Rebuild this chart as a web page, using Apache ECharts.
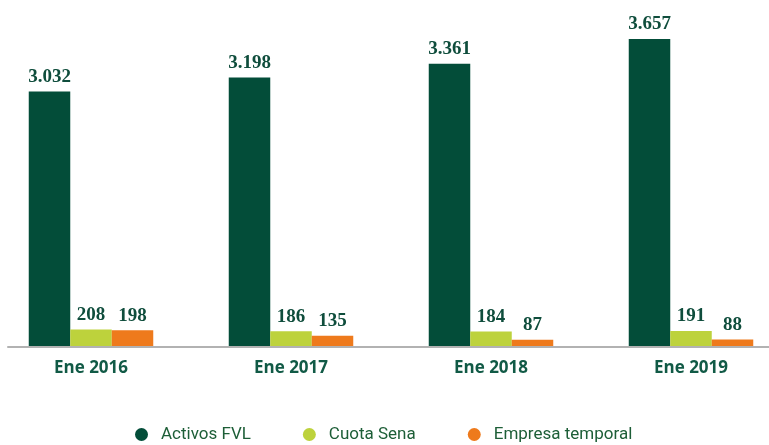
<!DOCTYPE html>
<html>
<head>
<meta charset="utf-8">
<script src="https://cdn.jsdelivr.net/npm/echarts@6/dist/echarts.min.js"></script>
<style>
  html, body { margin: 0; padding: 0; background: #fff; }
  #chart { width: 769px; height: 445px; }
</style>
</head>
<body>
<div id="chart"></div>
<script>
// datos
const categories = ['Ene 2016', 'Ene 2017', 'Ene 2018', 'Ene 2019'];
const activosFVL = [3032, 3198, 3361, 3657];
const cuotaSena = [208, 186, 184, 191];
const empresaTemporal = [198, 135, 87, 88];

const seriesNames = ['Activos FVL', 'Cuota Sena', 'Empresa temporal'];
const colors = ['#034d39', '#bdd23c', '#ee7a1c'];

// separador de miles con punto
function fmt(v) {
    return String(v).replace(/\B(?=(\d{3})+(?!\d))/g, '.');
}

const myChart = echarts.init(document.getElementById('chart'));

const labelStyle = {
    show: true,
    position: 'top',
    distance: 5,
    fontFamily: 'Liberation Serif',
    fontWeight: 'bold',
    fontSize: 19,
    color: '#0f4d3c',
    formatter: p => fmt(p.value[1])
};

// eje x numérico: cada categoría ocupa una unidad
function bar(name, data, color) {
    return {
        name: name,
        type: 'bar',
        data: data.map((v, i) => [i, v]),
        barWidth: 41.5,
        barGap: '0%',
        itemStyle: { color: color },
        label: labelStyle
    };
}

const option = {
    animation: false,
    color: colors,
    legend: {
        top: 421,
        left: 130,
        icon: 'circle',
        itemWidth: 13,
        itemHeight: 13,
        itemGap: 52,
        textStyle: {
            fontFamily: 'Roboto',
            fontSize: 17,
            color: '#1d5e37',
            padding: [0, 0, 0, 8]
        },
        data: seriesNames
    },
    grid: { left: 8, right: 0, top: 10, bottom: 98 },
    xAxis: {
        type: 'value',
        min: -0.415,
        max: 3.39,
        z: 5,
        axisLine: { show: true, onZero: false, lineStyle: { color: '#b2b2b2', width: 2 } },
        axisTick: { show: false },
        splitLine: { show: false },
        axisLabel: {
            customValues: [0, 1, 2, 3],
            formatter: v => categories[v],
            margin: 13,
            fontFamily: 'Open Sans',
            fontWeight: 'bold',
            fontSize: 17,
            color: '#115a46'
        }
    },
    yAxis: { type: 'value', min: 0, max: 4000, show: false, splitLine: { show: false } },
    series: [
        bar(seriesNames[0], activosFVL, colors[0]),
        bar(seriesNames[1], cuotaSena, colors[1]),
        bar(seriesNames[2], empresaTemporal, colors[2])
    ]
};

option && myChart.setOption(option);
</script>
</body>
</html>
